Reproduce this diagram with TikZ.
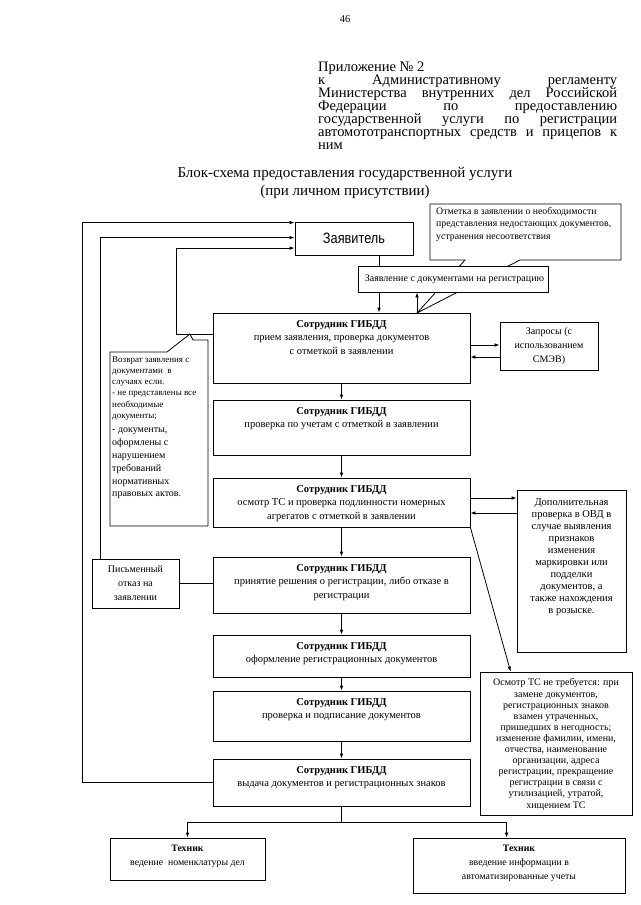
\documentclass[tikz,border=0pt]{standalone}
\usepackage{fontspec}
\usepackage{graphicx}
\setmainfont{Liberation Serif}
\newfontfamily\zsans{Liberation Sans}
\usetikzlibrary{arrows.meta,fit,calc}
\newcommand\flowbox[6]{%
  \node[box, fit={(#2,#3) (#4,#5)}] (#1) {};
  \node[txt, anchor=north] (#1t) at ([yshift=-7.5pt]#1.north) {#6};
}
\begin{document}
\begin{tikzpicture}[x=1pt,y=-1pt,
  every node/.style={inner sep=0pt},
  box/.style={draw, line width=0.8pt, fill=white},
  ln/.style={line width=0.8pt},
  arr/.style={ln, -{Latex[length=5pt,width=3.6pt]}},
  txt/.style={align=center, font=\fontsize{10.5}{13.5}\selectfont},
  hdr/.style={anchor=base west, font=\fontsize{14.5}{13}\selectfont},
]
\fill[white] (0,0) rectangle (640,905);
\useasboundingbox (0,0) rectangle (640,905);

% page number and header
\node[anchor=base, font=\fontsize{10.5}{12}\selectfont] (pg) at (345,22) {46};
\node[hdr] (h1) at (318,71) {Приложение № 2};
\node[hdr] (h2) at (318,84) {\makebox[299pt][s]{к Административному регламенту}};
\node[hdr] (h3) at (318,97) {\makebox[299pt][s]{Министерства внутренних дел Российской}};
\node[hdr] (h4) at (318,110) {\makebox[299pt][s]{Федерации по предоставлению}};
\node[hdr] (h5) at (318,123) {\makebox[299pt][s]{государственной услуги по регистрации}};
\node[hdr] (h6) at (318,136) {\makebox[299pt][s]{автомототранспортных средств и прицепов к}};
\node[hdr] (h7) at (318,149) {ним};

% title
\node[anchor=base, font=\fontsize{15}{18}\selectfont] (t1) at (345,177) {Блок-схема предоставления государственной услуги};
\node[anchor=base, font=\fontsize{15}{18}\selectfont] (t2) at (345,195) {(при личном присутствии)};

% main column
\flowbox{B1}{213}{313}{470}{383}{\textbf{Сотрудник ГИБДД}\\прием заявления, проверка документов\\с отметкой в заявлении}
\flowbox{B2}{213}{400}{470}{455}{\textbf{Сотрудник ГИБДД}\\проверка по учетам с отметкой в заявлении}
\flowbox{B3}{213}{478}{470}{527}{\textbf{Сотрудник ГИБДД}\\осмотр ТС и проверка подлинности номерных\\агрегатов с отметкой в заявлении}
\flowbox{B4}{213}{557}{470}{613}{\textbf{Сотрудник ГИБДД}\\принятие решения о регистрации, либо отказе в\\регистрации}
\flowbox{B5}{213}{635}{470}{677}{\textbf{Сотрудник ГИБДД}\\оформление регистрационных документов}
\flowbox{B6}{213}{691}{470}{741}{\textbf{Сотрудник ГИБДД}\\проверка и подписание документов}
\flowbox{B7}{213}{759}{470}{806}{\textbf{Сотрудник ГИБДД}\\выдача документов и регистрационных знаков}

\draw[arr] (B1.south) -- (B2.north);
\draw[arr] (B2.south) -- (B3.north);
\draw[arr] (B3.south) -- (B4.north);
\draw[arr] (B4.south) -- (B5.north);
\draw[arr] (B5.south) -- (B6.north);
\draw[arr] (B6.south) -- (B7.north);

% applicant
\node[box, fit={(295,222) (413,255)}] (Z) {};
\node[font=\zsans\fontsize{15}{16}\selectfont] (Zt) at (Z.center) {\scalebox{0.85}[1]{Заявитель}};

% top-right callout
\draw[ln, fill=white] (430,204) -- (621,204) -- (621,260) -- (520,260) -- (417,313) -- (465,260) -- (430,260) -- cycle;
\node[anchor=north west, align=left, font=\fontsize{9.8}{12.5}\selectfont] (Ct) at (436,207) {Отметка в заявлении о необходимости\\представления недостающих документов,\\устранения несоответствия};

% applicant -> B1
\draw[arr] ([xshift=25pt]Z.south) -- ([xshift=25pt]Z.south |- B1.north);

% application box
\node[box, fit={(358,266) (548,292)}] (ZD) {};
\node[anchor=west, font=\fontsize{10}{11}\selectfont] (ZDt) at ([xshift=7pt]ZD.west) {Заявление с документами на регистрацию};
\coordinate (tip) at (417,313);
\draw[arr] (tip) -- (tip |- ZD.south);

% requests
\node[box, fit={(500,322) (598,370)}] (Q) {};
\node[align=center, font=\fontsize{10}{14}\selectfont] (Qt) at (Q.center) {Запросы (с\\использованием\\СМЭВ)};
\draw[arr] ([yshift=3pt]B1.east) -- ([yshift=3pt]B1.east -| Q.west);
\draw[arr] ([yshift=-9pt]B1.east -| Q.west) -- ([yshift=-9pt]B1.east);

% additional check
\node[box, fit={(517,490) (626,652)}] (D) {};
\node[anchor=north, align=center, font=\fontsize{10.5}{12}\selectfont] (Dt) at ([yshift=-9pt]D.north) {Дополнительная\\проверка в ОВД в\\случае выявления\\признаков\\изменения\\маркировки или\\подделки\\документов, а\\также нахождения\\в розыске.};
\draw[arr] ([yshift=4.5pt]B3.east) -- ([yshift=4.5pt]B3.east -| D.west);
\draw[arr] ([yshift=-10.5pt]B3.east -| D.west) -- ([yshift=-10.5pt]B3.east);

% no inspection note
\node[box, fit={(480,672) (632,815)}] (O) {};
\node[anchor=north, align=center, font=\fontsize{10}{11.1}\selectfont] (Ot) at ([yshift=-7pt]O.north) {Осмотр ТС не требуется: при\\замене документов,\\регистрационных знаков\\взамен утраченных,\\пришедших в негодность;\\изменение фамилии, имени,\\отчества, наименование\\организации, адреса\\регистрации, прекращение\\регистрации в связи с\\утилизацией, утратой,\\хищением ТС};
\draw[arr] (B3.south east) -- ([xshift=31pt]O.north west);

% written refusal
\node[box, fit={(92,559) (179,608)}] (P) {};
\node[align=center, font=\fontsize{10}{14}\selectfont] (Pt) at (P.center) {Письменный\\отказ на\\заявлении};
\draw[ln] (P.east) -- (P.east -| B4.west);

% return lines to applicant
\draw[arr] (B7.west) -- ++(-130,0) |- ([yshift=-1pt]Z.north west);
\draw[arr] ([xshift=9pt]P.north west) |- ([yshift=-16pt]Z.north west);
\draw[arr] ([yshift=14pt]B1.west) -- ++(-36,0) |- ([yshift=-26.5pt]Z.north west);

% left callout
\draw[ln, fill=white] (110,352) -- (167,352) -- (190,334) -- (193,340) -- (208,340) -- (208,526) -- (110,526) -- cycle;
\node[anchor=north west, align=left, font=\fontsize{9}{11.3}\selectfont] (Lt1) at (112,356) {Возврат заявления с\\документами\ \ в\\случаях если.\\- не представлены все\\необходимые\\документы;};
\node[anchor=north west, align=left, font=\fontsize{10}{12.8}\selectfont] (Lt2) at (112,428) {- документы,\\оформлены с\\нарушением\\требований\\нормативных\\правовых актов.};

% technicians
\node[box, fit={(110,838) (265,880)}] (T1) {};
\node[anchor=north, align=center, font=\fontsize{9.8}{14}\selectfont] (T1t) at ([yshift=-7pt]T1.north) {\textbf{Техник}\\ведение\ \ номенклатуры дел};
\node[box, fit={(413,838) (625,893)}] (T2) {};
\node[anchor=north, align=center, font=\fontsize{9.8}{14}\selectfont] (T2t) at ([yshift=-7pt]T2.north) {\textbf{Техник}\\введение информации в\\автоматизированные учеты};
\draw[ln] (B7.south) -- ++(0,16) coordinate (jn);
\draw[arr] (jn) -| (T1.north);
\draw[arr] (jn) -| ([xshift=94pt]T2.north west);
\end{tikzpicture}
\end{document}
